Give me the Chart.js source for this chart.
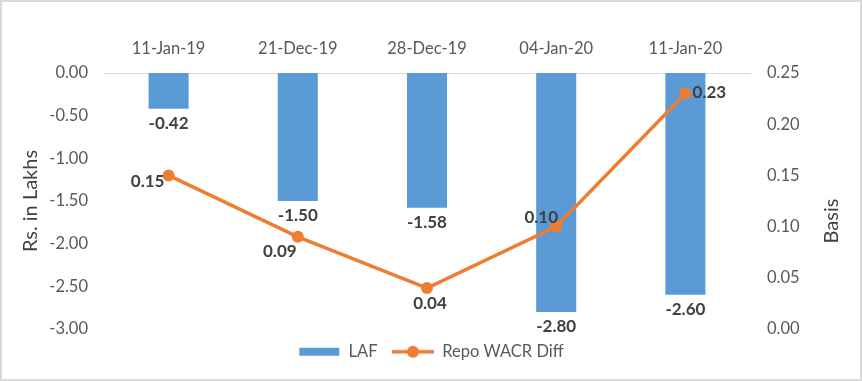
<!DOCTYPE html>
<html>
<head>
<meta charset="utf-8">
<script src="https://cdn.jsdelivr.net/npm/chart.js@4.4.1/dist/chart.umd.min.js"></script>
<style>
  html, body { margin: 0; padding: 0; background: #ffffff; }
  #wrap { position: relative; width: 862px; height: 381px; }
</style>
</head>
<body>
<div id="wrap"><canvas id="c" width="862" height="381"></canvas></div>
<script>
// ---- data ----
const categories = ['11-Jan-19', '21-Dec-19', '28-Dec-19', '04-Jan-20', '11-Jan-20'];
const lafValues = [-0.42, -1.50, -1.58, -2.80, -2.60];
const repoWacrDiff = [0.15, 0.09, 0.04, 0.10, 0.23];
const leftTicks = [-3.00, -2.50, -2.00, -1.50, -1.00, -0.50, 0.00];
const rightTicks = [0.00, 0.05, 0.10, 0.15, 0.20, 0.25];
const seriesNames = ['LAF', 'Repo WACR Diff'];
const leftTitle = 'Rs. in Lakhs';
const rightTitle = 'Basis';

// ---- styles ----
const BLUE = '#5B9BD5';
const ORANGE = '#ED7D31';
const FONT = 'Lato';
const TICK_COLOR = '#595959';
const LABEL_COLOR = '#404040';
const TITLE_COLOR = '#404040';

// legend point-style images
function makeBarIcon() {
  const c = document.createElement('canvas');
  c.width = 42; c.height = 10;
  const g = c.getContext('2d');
  g.fillStyle = BLUE;
  g.fillRect(1, 1, 40, 8);
  return c;
}
function makeLineIcon() {
  const c = document.createElement('canvas');
  c.width = 42; c.height = 14;
  const g = c.getContext('2d');
  g.strokeStyle = ORANGE; g.lineWidth = 3.5;
  g.beginPath(); g.moveTo(0, 7); g.lineTo(42, 7); g.stroke();
  g.fillStyle = ORANGE;
  g.beginPath(); g.arc(21, 7, 6, 0, Math.PI * 2); g.fill();
  return c;
}

// label offsets for line points (dx, dy) – style only
const lineLabelOffsets = [[-21, 6], [-18, 15], [3, 15], [-15, -9], [24, -1]];

const framePlugin = {
  id: 'frame',
  beforeDraw(chart) {
    const { ctx, width, height } = chart;
    ctx.save();
    ctx.fillStyle = '#ffffff';
    ctx.fillRect(0, 0, width, height);
    ctx.restore();
  },
  afterDraw(chart) {
    const { ctx, width, height } = chart;
    ctx.save();
    ctx.strokeStyle = '#d9d9d9';
    ctx.lineWidth = 2;
    ctx.strokeRect(1, 1, width - 2, height - 2);
    // right axis title, reading bottom-to-top
    ctx.fillStyle = TITLE_COLOR;
    ctx.font = '20px ' + FONT;
    ctx.textAlign = 'center';
    ctx.textBaseline = 'middle';
    ctx.translate(832, 221);
    ctx.rotate(-Math.PI / 2);
    ctx.fillText(rightTitle, 0, 0);
    ctx.restore();
  }
};

const labelPlugin = {
  id: 'valueLabels',
  afterDatasetsDraw(chart) {
    const { ctx } = chart;
    ctx.save();
    ctx.font = 'bold 17px ' + FONT;
    ctx.fillStyle = LABEL_COLOR;
    ctx.textAlign = 'center';
    ctx.textBaseline = 'middle';
    const barMeta = chart.getDatasetMeta(0);
    barMeta.data.forEach((el, i) => {
      ctx.fillText(lafValues[i].toFixed(2), el.x, el.y + 15);
    });
    const lineMeta = chart.getDatasetMeta(1);
    lineMeta.data.forEach((el, i) => {
      const [dx, dy] = lineLabelOffsets[i];
      ctx.fillText(repoWacrDiff[i].toFixed(2), el.x + dx, el.y + dy);
    });
    ctx.restore();
  }
};

const barIcon = makeBarIcon();
const lineIcon = makeLineIcon();

new Chart(document.getElementById('c'), {
  data: {
    labels: categories,
    datasets: [
      {
        type: 'bar',
        label: seriesNames[0],
        data: lafValues,
        backgroundColor: BLUE,
        borderWidth: 0,
        yAxisID: 'y',
        order: 2,
        barPercentage: 0.31,
        categoryPercentage: 1.0
      },
      {
        type: 'line',
        label: seriesNames[1],
        data: repoWacrDiff,
        borderColor: ORANGE,
        backgroundColor: ORANGE,
        borderWidth: 3.5,
        pointRadius: 6,
        pointBackgroundColor: ORANGE,
        pointBorderWidth: 0,
        tension: 0,
        yAxisID: 'y1',
        order: 1
      }
    ]
  },
  options: {
    responsive: false,
    animation: false,
    devicePixelRatio: 1,
    layout: { padding: { left: 0, right: 0, top: 0, bottom: 11 } },
    plugins: {
      tooltip: { enabled: false },
      legend: {
        position: 'bottom',
        align: 'center',
        labels: {
          usePointStyle: true,
          pointStyleWidth: 42,
          padding: 14.5,
          color: TICK_COLOR,
          font: { family: FONT, size: 16.5 },
          sort: (a, b) => a.datasetIndex - b.datasetIndex,
          generateLabels(chart) {
            const items = Chart.defaults.plugins.legend.labels.generateLabels(chart);
            items.forEach(it => {
              it.pointStyle = it.datasetIndex === 0 ? barIcon : lineIcon;
            });
            return items;
          }
        }
      }
    },
    scales: {
      x: {
        position: 'top',
        offset: true,
        grid: { display: false, drawTicks: false },
        border: { display: true, color: '#d9d9d9', width: 1 },
        ticks: {
          color: TICK_COLOR,
          font: { family: FONT, size: 16.5 },
          padding: 14,
          maxRotation: 0
        },
        afterFit(scale) { scale.height = 73; }
      },
      y: {
        position: 'left',
        min: leftTicks[0],
        max: leftTicks[leftTicks.length - 1],
        grid: { display: false, drawTicks: false },
        border: { display: false },
        afterBuildTicks(scale) { scale.ticks = leftTicks.map(v => ({ value: v })); },
        ticks: {
          color: TICK_COLOR,
          font: { family: FONT, size: 16.5 },
          padding: 16,
          callback: v => Number(v).toFixed(2)
        },
        title: {
          display: true,
          text: leftTitle,
          color: TITLE_COLOR,
          font: { family: FONT, size: 20 },
          padding: { top: 19, bottom: 0 }
        },
        afterFit(scale) { scale.width = 104; }
      },
      y1: {
        position: 'right',
        min: rightTicks[0],
        max: rightTicks[rightTicks.length - 1],
        grid: { display: false, drawTicks: false },
        border: { display: false },
        afterBuildTicks(scale) { scale.ticks = rightTicks.map(v => ({ value: v })); },
        ticks: {
          color: TICK_COLOR,
          font: { family: FONT, size: 16.5 },
          padding: 17,
          callback: v => Number(v).toFixed(2)
        },
        afterFit(scale) { scale.width = 112; }
      }
    }
  },
  plugins: [framePlugin, labelPlugin]
});
</script>
</body>
</html>
